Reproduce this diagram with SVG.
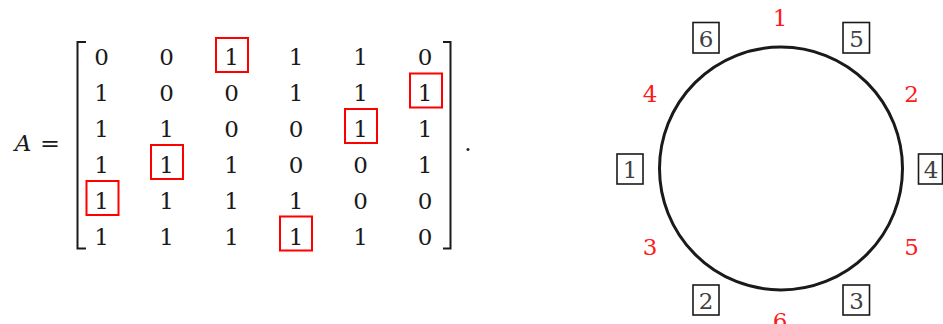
<svg xmlns="http://www.w3.org/2000/svg" width="943" height="324" viewBox="0 0 943 324">
<style>
text{font-family:'DejaVu Serif','Liberation Serif',serif;font-size:23px;fill:#1a1a1a;text-anchor:middle}
.r{fill:#ff1a1a}
.g{fill:#404040}
.rb{fill:none;stroke:#ff0000;stroke-width:2}
.bb{fill:none;stroke:#1a1a1a;stroke-width:1.6}
.br{fill:none;stroke:#1a1a1a;stroke-width:2}
</style>
<rect width="943" height="324" fill="#ffffff"/>
<g id="equation">
<text x="23" y="151" font-style="italic">A</text>
<text x="50" y="151" textLength="20" lengthAdjust="spacingAndGlyphs">=</text>
<text x="468" y="151">.</text>
<path class="br" d="M86,42 H77.5 V248.5 H86"/>
<path class="br" d="M443,42 H450.5 V248.5 H443"/>
</g>
<g id="matrix">
<text x="101.5" y="65">0</text><text x="166.5" y="65">0</text><text x="231.5" y="65">1</text><text x="296" y="65">1</text><text x="360.5" y="65">1</text><text x="425" y="65">0</text>
<text x="101.5" y="101">1</text><text x="166.5" y="101">0</text><text x="231.5" y="101">0</text><text x="296" y="101">1</text><text x="360.5" y="101">1</text><text x="425" y="101">1</text>
<text x="101.5" y="137">1</text><text x="166.5" y="137">1</text><text x="231.5" y="137">0</text><text x="296" y="137">0</text><text x="360.5" y="137">1</text><text x="425" y="137">1</text>
<text x="101.5" y="173">1</text><text x="166.5" y="173">1</text><text x="231.5" y="173">1</text><text x="296" y="173">0</text><text x="360.5" y="173">0</text><text x="425" y="173">1</text>
<text x="101.5" y="209">1</text><text x="166.5" y="209">1</text><text x="231.5" y="209">1</text><text x="296" y="209">1</text><text x="360.5" y="209">0</text><text x="425" y="209">0</text>
<text x="101.5" y="244.5">1</text><text x="166.5" y="244.5">1</text><text x="231.5" y="244.5">1</text><text x="296" y="244.5">1</text><text x="360.5" y="244.5">1</text><text x="425" y="244.5">0</text>
<rect class="rb" x="216" y="38" width="32" height="34"/>
<rect class="rb" x="410" y="73.5" width="32" height="34"/>
<rect class="rb" x="345" y="109" width="32" height="34"/>
<rect class="rb" x="151" y="145" width="32" height="34"/>
<rect class="rb" x="86.5" y="181" width="32" height="34"/>
<rect class="rb" x="280" y="216.5" width="32" height="34"/>
</g>
<g id="connectors">
<circle cx="781" cy="168.5" r="121.5" fill="none" stroke="#1a1a1a" stroke-width="3"/>
</g>
<g id="node-6"><rect class="bb" x="693" y="22.5" width="26" height="30.5"/><text class="g" x="706" y="46.5">6</text></g>
<g id="node-5"><rect class="bb" x="843" y="22.5" width="26.5" height="30.5"/><text class="g" x="856.5" y="46.5">5</text></g>
<g id="node-1"><rect class="bb" x="617" y="154" width="26" height="30"/><text class="g" x="630" y="177.5">1</text></g>
<g id="node-4"><rect class="bb" x="918.5" y="154" width="24" height="30"/><text class="g" x="931" y="177.5">4</text></g>
<g id="node-2"><rect class="bb" x="693" y="285" width="26" height="30"/><text class="g" x="706" y="308.5">2</text></g>
<g id="node-3"><rect class="bb" x="843" y="285" width="26.5" height="30"/><text class="g" x="856.5" y="308.5">3</text></g>
<g id="labels">
<text class="r" x="780" y="26">1</text>
<text class="r" x="911.5" y="101.5">2</text>
<text class="r" x="650" y="101.5">4</text>
<text class="r" x="650" y="255">3</text>
<text class="r" x="911.5" y="255">5</text>
<text class="r" x="780" y="329">6</text>
</g>
</svg>
